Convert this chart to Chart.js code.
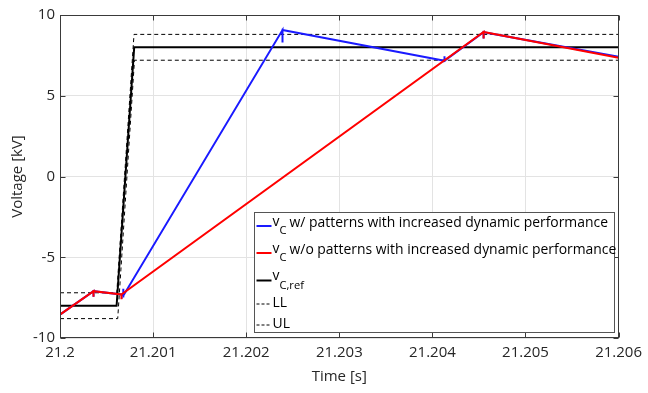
<!DOCTYPE html>
<html>
<head>
<meta charset="utf-8">
<script src="https://cdn.jsdelivr.net/npm/chart.js@4.4.1/dist/chart.umd.min.js"></script>
<style>
  html, body { margin: 0; padding: 0; background: #fff; }
  #chart { display: block; }
</style>
</head>
<body>
<canvas id="chart" width="648" height="393"></canvas>
<script>
// axis ticks
const xTicks = [21.2, 21.201, 21.202, 21.203, 21.204, 21.205, 21.206];
const yTicks = [-10, -5, 0, 5, 10];

// v_C with patterns (blue); repeated times are the small spikes
const blueTime = [21.2, 21.20036, 21.20036, 21.20036, 21.20066, 21.20068, 21.20068, 21.20068,
                  21.20239, 21.20239, 21.20239, 21.20413, 21.20413, 21.20413,
                  21.20455, 21.20455, 21.20455, 21.206];
const blueVolt = [-8.55, -7.1, -7.45, -7.1, -7.3, -7.38, -6.95, -7.38,
                  9.07, 8.3, 9.07, 7.17, 7.45, 7.17,
                  8.93, 8.55, 8.93, 7.42];

// v_C without patterns (red)
const redTime = [21.2, 21.20036, 21.20036, 21.20036, 21.20066, 21.20066, 21.20066,
                 21.20455, 21.20455, 21.20455, 21.206];
const redVolt = [-8.55, -7.1, -7.45, -7.1, -7.3, -7.6, -7.3,
                 8.95, 8.55, 8.95, 7.35];

// reference and limits
const refTime = [21.2, 21.200608, 21.200797, 21.206];
const refVolt = [-8, -8, 8, 8];
const ulTime = [21.2, 21.20061, 21.200795, 21.206];
const ulVolt = [-7.2, -7.2, 8.8, 8.8];
const llTime = [21.2, 21.20062, 21.2008, 21.206];
const llVolt = [-8.8, -8.8, 7.2, 7.2];

const legendItems = [
  { v: "v", sub: "C", text: "w/ patterns with increased dynamic performance", color: "#1a1aff", dash: false },
  { v: "v", sub: "C", text: "w/o patterns with increased dynamic performance", color: "#ff0000", dash: false },
  { v: "v", sub: "C,ref", text: "", color: "#000000", dash: false },
  { v: "", sub: "", text: "LL", color: "#000000", dash: true },
  { v: "", sub: "", text: "UL", color: "#000000", dash: true }
];

function pts(t, v) {
  return t.map((x, i) => ({ x: x, y: v[i] }));
}

const FONT = "'Open Sans', 'DejaVu Sans', sans-serif";

// box, inward ticks and legend, MATLAB style
const framePlugin = {
  id: "frame",
  afterDraw(c) {
    const ctx = c.ctx;
    const a = c.chartArea;
    const xs = c.scales.x, ys = c.scales.y;
    ctx.save();
    ctx.strokeStyle = "#3a3a3a";
    ctx.lineWidth = 1;
    const L = Math.round(a.left) + 0.5, T = Math.round(a.top) + 0.5;
    const R = Math.round(a.right) - 0.5, B = Math.round(a.bottom) - 0.5;
    ctx.strokeRect(L, T, R - L, B - T);
    ctx.beginPath();
    xTicks.forEach(v => {
      const px = Math.round(xs.getPixelForValue(v)) + 0.5;
      ctx.moveTo(px, T); ctx.lineTo(px, T + 5);
      ctx.moveTo(px, B); ctx.lineTo(px, B - 5);
    });
    yTicks.forEach(v => {
      const py = Math.round(ys.getPixelForValue(v)) + 0.5;
      ctx.moveTo(L, py); ctx.lineTo(L + 5, py);
      ctx.moveTo(R, py); ctx.lineTo(R - 5, py);
    });
    ctx.stroke();

    // legend
    const bx = L + 194, by = T + 197, bw = R - 4 - bx, bh = B - 5 - by;
    ctx.fillStyle = "#fff";
    ctx.fillRect(bx, by, bw, bh);
    ctx.strokeStyle = "#555";
    ctx.strokeRect(bx, by, bw, bh);

    // fit font so the first entry has the reference width
    ctx.font = "14px " + FONT;
    const w14 = ctx.measureText(legendItems[0].text).width;
    const fs = Math.min(15, 14 * 319 / w14);
    const rows = [10.5, 37.5, 65, 91, 112];
    legendItems.forEach((it, i) => {
      const cy = by + rows[i];
      ctx.beginPath();
      ctx.strokeStyle = it.color;
      if (it.dash) {
        ctx.lineWidth = 1;
        ctx.setLineDash([3, 2]);
        ctx.moveTo(bx + 2, cy + 0.5); ctx.lineTo(bx + 17, cy + 0.5);
      } else {
        ctx.lineWidth = 2;
        ctx.setLineDash([]);
        ctx.moveTo(bx + 2, cy + 3); ctx.lineTo(bx + 17, cy + 3);
      }
      ctx.stroke();
      ctx.setLineDash([]);
      ctx.fillStyle = "#000";
      ctx.textBaseline = "middle";
      ctx.textAlign = "left";
      let x = bx + 18;
      if (it.v) {
        ctx.font = fs + "px " + FONT;
        ctx.fillText(it.v, x, cy - 1);
        x += ctx.measureText(it.v).width;
        ctx.font = (fs * 0.8) + "px " + FONT;
        ctx.fillText(it.sub, x, cy + 8);
        x += ctx.measureText(it.sub).width + 3;
        x = Math.max(x, bx + 35);
      }
      ctx.font = fs + "px " + FONT;
      ctx.fillText(it.text, x, cy);
    });
    ctx.restore();
  }
};

new Chart(document.getElementById("chart"), {
  type: "line",
  data: {
    datasets: [
      { label: "vC w/ patterns", data: pts(blueTime, blueVolt), borderColor: "#1a1aff", borderWidth: 2, order: 1 },
      { label: "vC w/o patterns", data: pts(redTime, redVolt), borderColor: "#ff0000", borderWidth: 2, order: 0 },
      { label: "vC,ref", data: pts(refTime, refVolt), borderColor: "#000000", borderWidth: 2, order: 2 },
      { label: "LL", data: pts(llTime, llVolt), borderColor: "#000000", borderWidth: 1, borderDash: [4, 3], order: 3 },
      { label: "UL", data: pts(ulTime, ulVolt), borderColor: "#000000", borderWidth: 1, borderDash: [4, 3], order: 3 }
    ]
  },
  options: {
    responsive: false,
    animation: false,
    devicePixelRatio: 1,
    parsing: false,
    elements: { point: { radius: 0 }, line: { tension: 0, borderJoinStyle: "miter" } },
    layout: { padding: { top: 15, right: 26, left: 0, bottom: 0 } },
    plugins: { legend: { display: false }, tooltip: { enabled: false } },
    scales: {
      x: {
        type: "linear",
        min: 21.2,
        max: 21.206,
        afterBuildTicks: s => { s.ticks = xTicks.map(v => ({ value: v })); },
        afterFit: s => { s.height = 55; },
        grid: { color: "#e3e3e3", drawTicks: false },
        border: { display: false },
        ticks: {
          padding: 6,
          color: "#262626",
          font: { family: FONT, size: 15, lineHeight: 1.2 },
          maxRotation: 0,
          callback: v => String(Number(v.toFixed(3)))
        },
        title: {
          display: true,
          text: "Time [s]",
          color: "#262626",
          font: { family: FONT, size: 15, lineHeight: 1.2 },
          padding: { top: 0, bottom: 7 }
        }
      },
      y: {
        type: "linear",
        min: -10,
        max: 10,
        afterBuildTicks: s => { s.ticks = yTicks.map(v => ({ value: v })); },
        afterFit: s => { s.width = 60; },
        grid: { color: "#e3e3e3", drawTicks: false },
        border: { display: false },
        ticks: {
          padding: 5,
          color: "#262626",
          font: { family: FONT, size: 15, lineHeight: 1.2 }
        },
        title: {
          display: true,
          text: "Voltage [kV]",
          color: "#262626",
          font: { family: FONT, size: 15, lineHeight: 1.2 },
          padding: { top: 9, bottom: 0 }
        }
      }
    }
  },
  plugins: [framePlugin]
});
</script>
</body>
</html>
